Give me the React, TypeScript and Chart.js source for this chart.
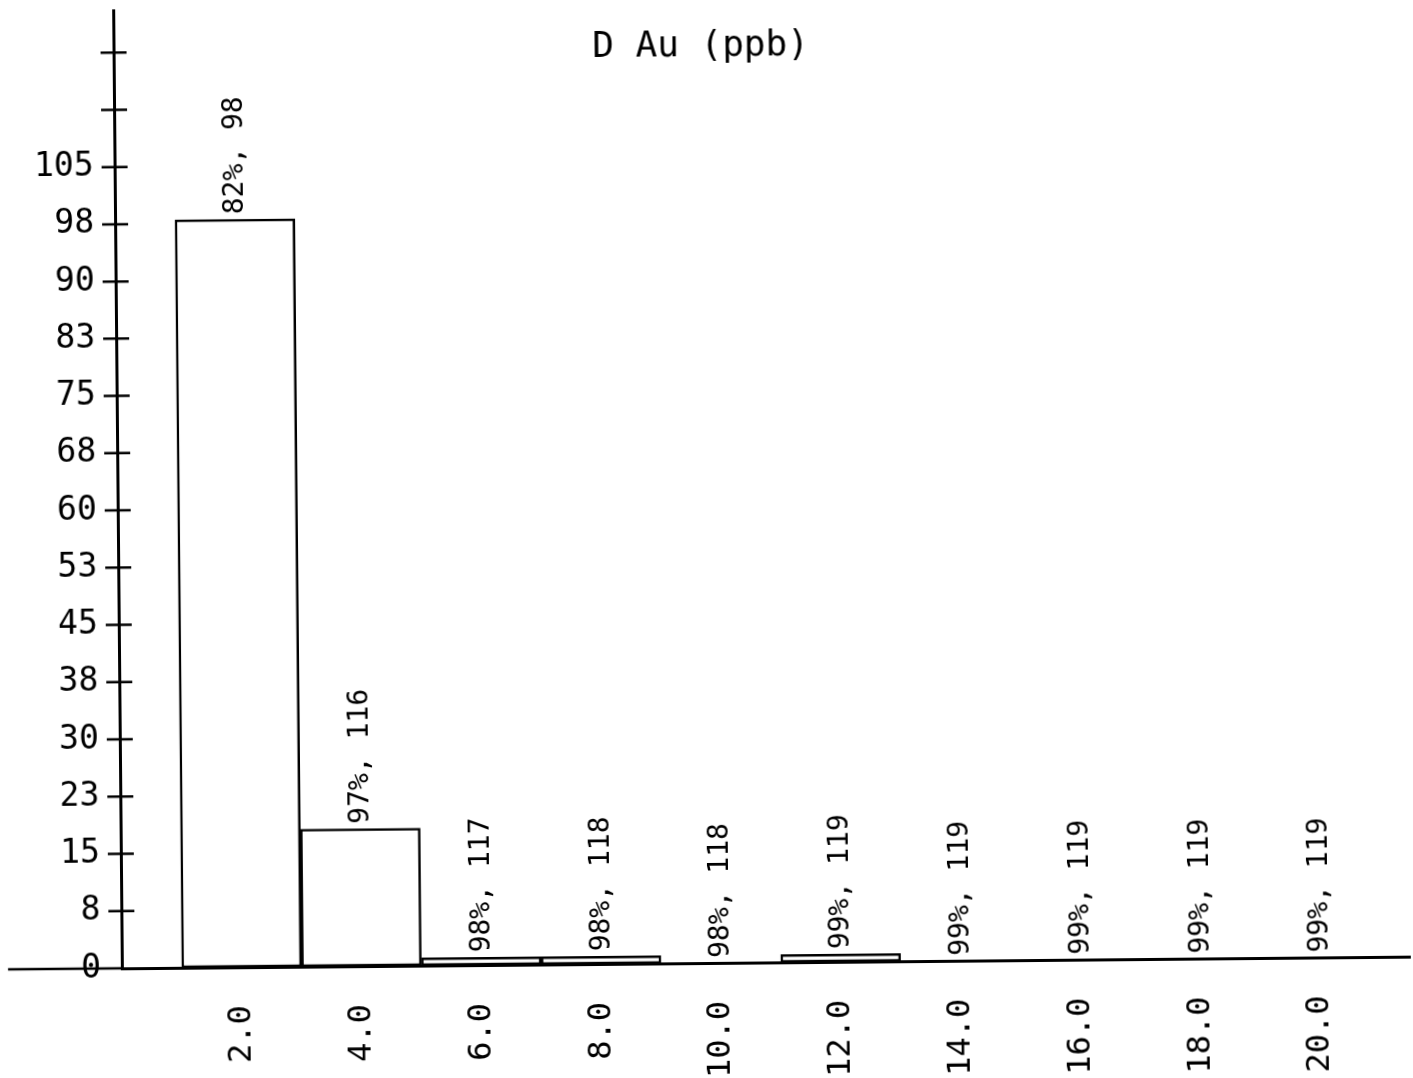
import { useEffect, useRef } from 'react';
import { Chart, registerables } from 'chart.js';

Chart.register(...registerables);

const binCenters = [2, 4, 6, 8, 10, 12, 14, 16, 18, 20];
const binCounts = [98, 18, 1, 1, 0, 1, 0, 0, 0, 0];
const cumulativePercent = [82, 97, 98, 98, 98, 99, 99, 99, 99, 99];
const cumulativeCounts = [98, 116, 117, 118, 118, 119, 119, 119, 119, 119];
const xTickLabels = ['2.0', '4.0', '6.0', '8.0', '10.0', '12.0', '14.0', '16.0', '18.0', '20.0'];
const yTickValues = [0, 7.5, 15, 22.5, 30, 37.5, 45, 52.5, 60, 67.5, 75, 82.5, 90, 97.5, 105, 112.5, 120];
const yTickLabels = ['0', '8', '15', '23', '30', '38', '45', '53', '60', '68', '75', '83', '90', '98', '105', '', ''];
const chartTitle = 'D Au (ppb)';
const xAxisStart = -1.9;
const xAxisEnd = 21.5;
const yAxisTop = 125.5;

const FONT = '"DejaVu Sans Mono", monospace';

const plotterMarks = {
  id: 'plotterMarks',
  afterDatasetsDraw(chart: any) {
    const ctx = chart.ctx as CanvasRenderingContext2D;
    const xs = chart.scales.x;
    const ys = chart.scales.y;
    const ax = xs.getPixelForValue(0);
    const ay = ys.getPixelForValue(0);
    ctx.save();
    ctx.strokeStyle = '#000';
    ctx.lineWidth = 2.5;
    ctx.lineCap = 'butt';
    ctx.beginPath();
    // x-axis continues to the left of the y-axis
    ctx.moveTo(xs.getPixelForValue(xAxisStart), ay);
    ctx.lineTo(ax, ay);
    // tick crosses on the y-axis
    yTickValues.forEach((v) => {
      if (v === 0) return;
      const py = ys.getPixelForValue(v);
      ctx.moveTo(ax - 13, py);
      ctx.lineTo(ax + 13, py);
    });
    ctx.stroke();

    const meta = chart.getDatasetMeta(0);
    ctx.fillStyle = '#000';
    ctx.font = `28px ${FONT}`;
    ctx.textAlign = 'left';
    ctx.textBaseline = 'middle';
    meta.data.forEach((bar: any, i: number) => {
      const text = `${cumulativePercent[i]}%, ${cumulativeCounts[i]}`;
      ctx.save();
      ctx.translate(bar.x + 1, bar.y - 5);
      ctx.rotate(-Math.PI / 2);
      ctx.fillText(text, 0, 0);
      ctx.restore();
    });
    ctx.restore();
  },
};

export default function App() {
  const canvasRef = useRef<HTMLCanvasElement | null>(null);

  useEffect(() => {
    if (!canvasRef.current) return;
    const chart = new Chart(canvasRef.current, {
      type: 'bar',
      data: {
        datasets: [
          {
            data: binCenters.map((x, i) => ({ x, y: binCounts[i] })),
            backgroundColor: '#ffffff',
            borderColor: '#000000',
            borderWidth: 2.5,
            borderSkipped: false,
            barPercentage: 1,
            categoryPercentage: 1,
          } as any,
        ],
      },
      options: {
        animation: false,
        responsive: false,
        devicePixelRatio: 1,
        events: [],
        layout: { padding: { left: 4, right: 7, top: 0, bottom: 0 } },
        plugins: {
          legend: { display: false },
          tooltip: { enabled: false },
          title: {
            display: true,
            text: chartTitle,
            color: '#000',
            font: { family: FONT, size: 36, weight: 'normal' },
            padding: { top: 25, bottom: -63 },
          },
        },
        scales: {
          x: {
            type: 'linear',
            offset: false,
            min: 0,
            max: xAxisEnd,
            grid: { display: false, offset: false },
            border: { display: true, color: '#000', width: 3 },
            ticks: {
              autoSkip: false,
              minRotation: 90,
              maxRotation: 90,
              padding: 30,
              color: '#000',
              font: { family: FONT, size: 32 },
              callback: (_v: any, i: number) => xTickLabels[i] ?? '',
            },
            afterBuildTicks: (s: any) => {
              s.ticks = binCenters.map((v) => ({ value: v }));
            },
            afterFit: (s: any) => {
              s.height = 115;
              s.paddingLeft = 0;
              s.paddingRight = 0;
            },
          },
          y: {
            type: 'linear',
            position: 'left',
            min: 0,
            max: yAxisTop,
            grid: { display: false },
            border: { display: true, color: '#000', width: 3 },
            ticks: {
              padding: 13,
              color: '#000',
              font: { family: FONT, size: 33 },
              callback: (_v: any, i: number) => yTickLabels[i] ?? '',
            },
            afterBuildTicks: (s: any) => {
              s.ticks = yTickValues.map((v) => ({ value: v }));
            },
            afterFit: (s: any) => {
              s.width = 114;
              s.paddingTop = 0;
              s.paddingBottom = 0;
            },
          },
        },
      } as any,
      plugins: [plotterMarks],
    });
    return () => chart.destroy();
  }, []);

  return (
    <div style={{ position: 'absolute', left: 0, top: 0, width: 1413, height: 1078, overflow: 'hidden', background: '#fff' }}>
      <canvas
        ref={canvasRef}
        width={1413}
        height={1078}
        style={{ display: 'block', transform: 'rotate(-0.52deg)', transformOrigin: '50% 50%' }}
      />
    </div>
  );
}
